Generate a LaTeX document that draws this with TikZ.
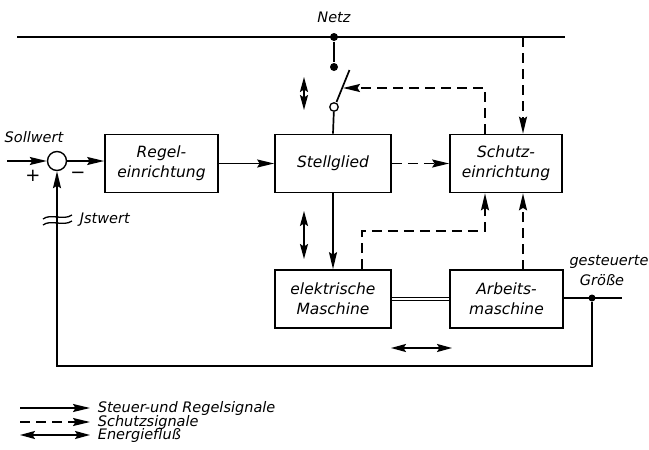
\documentclass[tikz,border=0pt]{standalone}
\usepackage{fontspec}
\setmainfont{DejaVu Sans}
\usetikzlibrary{arrows.meta}
\begin{document}
\begin{tikzpicture}[x=1pt,y=-1pt,
  line width=1.7pt,
  font=\fontsize{14.5}{17}\selectfont\itshape,
  tip/.style={-{Stealth[length=17pt,width=8pt,inset=2.5pt]}},
  dtip/.style={{Stealth[length=15pt,width=8pt,inset=2.5pt]}-{Stealth[length=15pt,width=8pt,inset=2.5pt]}},
  dsh/.style={dash pattern=on 10pt off 6pt},
  blk/.style={draw,rectangle,inner sep=0pt,minimum height=58pt,align=center,font=\fontsize{15.5}{20}\selectfont\itshape},
  lbl/.style={inner sep=0pt},
  fdot/.style={circle,fill,inner sep=0pt,minimum size=8pt},
  odot/.style={circle,draw,fill=white,inner sep=0pt,minimum size=8.5pt,line width=1.3pt}
]
\useasboundingbox (0,0) rectangle (649,450);
% blocks
\node[blk,minimum width=113pt] (regel) at (161.5,163.5) {Regel-\\einrichtung};
\node[blk,minimum width=116pt] (stell) at (333,163.5) {Stellglied};
\node[blk,minimum width=112pt] (schutz) at (506,163.5) {Schutz-\\einrichtung};
\node[blk,minimum width=116pt] (elek) at (333,299) {elektrische\\Maschine};
\node[blk,minimum width=113pt] (arb) at (506.5,299) {Arbeits-\\maschine};
\node[draw,circle,inner sep=0pt,minimum size=19pt,line width=1.4pt] (sum) at (57,161) {};
% texts
\node[lbl] (netz) at (334,17) {Netz};
\node[lbl] (soll) at (34,137) {Sollwert};
\node[lbl,font=\fontsize{18}{18}\selectfont] (plus) at (33,176) {+};
\node[lbl,font=\fontsize{18}{18}\selectfont] (minus) at (78,175) {−};
\node[lbl,anchor=west] (ist) at (79,220) {Jstwert};
\node[lbl] (gest) at (609,262) {gesteuerte};
\node[lbl] (gross) at (602,280) {Größe};
% bus and switch
\coordinate (busL) at (17,37);
\coordinate (busR) at (565,37);
\draw (busL) -- (busR);
\node[fdot] (busdot) at (334,37) {};
\node[fdot] (ctop) at (334,67) {};
\node[odot] (cbot) at (334,107) {};
\coordinate (bladeA) at (336.5,102);
\coordinate (bladeB) at (349.5,70);
\coordinate (bladeHit) at (343,88);
\draw (busdot) -- (ctop);
\draw (bladeA) -- (bladeB);
\draw (cbot) -- (stell.north);
\coordinate (s1) at (485,88);
\draw[dsh,tip] (schutz.north -| s1) -- (s1) -- (bladeHit);
\coordinate (bx) at (523,37);
\draw[dsh,tip] (bx) -- (bx |- schutz.north);
\coordinate (dA1) at (304,77);
\coordinate (dA2) at (304,110);
\draw[dtip] (dA1) -- (dA2);
% main signal path
\coordinate (sin) at (7,161);
\draw[tip] (sin) -- (sum.west);
\draw[tip] (sum.east) -- (regel.west |- sum.east);
\draw[tip] (regel.east) -- (stell.west);
\draw[dsh,tip] (stell.east) -- (schutz.west);
\draw[tip] (stell.south) -- (elek.north);
\coordinate (dB1) at (304,211);
\coordinate (dB2) at (304,259);
\draw[dtip] (dB1) -- (dB2);
% protection signals from machines
\coordinate (e1) at (362,231);
\coordinate (e2) at (485,231);
\draw[dsh,tip] (elek.north -| e1) -- (e1) -- (e2) -- (e2 |- schutz.south);
\coordinate (a1) at (523,270);
\draw[dsh,tip] (a1) -- (a1 |- schutz.south);
% shaft
\draw[double,double distance=2.2pt,line width=1.1pt] (elek.east) -- (arb.west);
\coordinate (en1) at (391,348);
\coordinate (en2) at (452,348);
\draw[dtip] (en1) -- (en2);
% output and feedback
\coordinate (outR) at (622,298);
\node[fdot,minimum size=7pt] (odot) at (592,298) {};
\draw (arb.east |- outR) -- (outR);
\coordinate (fb1) at (592,366);
\coordinate (fb2) at (57,366);
\draw[tip] (odot) -- (fb1) -- (fb2) -- (sum.south);
% break symbol
\draw[line width=1.3pt] (43,219) .. controls (51,213) and (63,221) .. (72,215);
\draw[line width=1.3pt] (43,225) .. controls (51,219) and (63,227) .. (72,221);
% legend
\coordinate (l1a) at (20,408); \coordinate (l1b) at (90,408);
\coordinate (l2a) at (20,422); \coordinate (l2b) at (90,422);
\coordinate (l3a) at (20,435); \coordinate (l3b) at (90,435);
\draw[tip] (l1a) -- (l1b);
\draw[tip,dsh] (l2a) -- (l2b);
\draw[dtip] (l3a) -- (l3b);
\node[lbl,anchor=west] (t1) at (97,408) {Steuer-und Regelsignale};
\node[lbl,anchor=west] (t2) at (97,422) {Schutzsignale};
\node[lbl,anchor=west] (t3) at (97,435) {Energiefluß};
\end{tikzpicture}
\end{document}
